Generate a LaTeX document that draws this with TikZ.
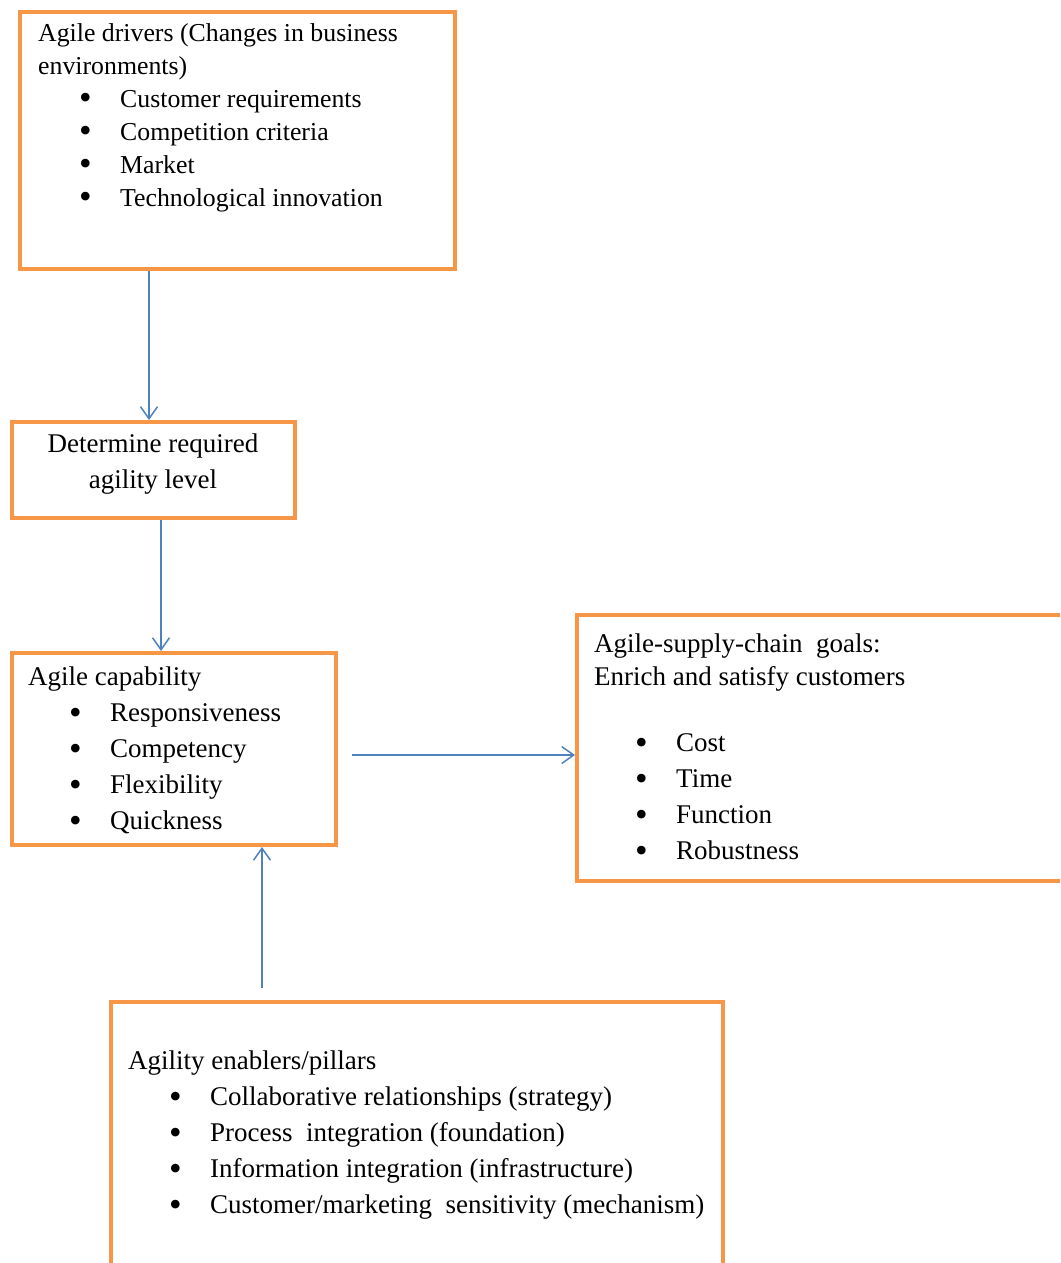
\documentclass[tikz,border=0pt]{standalone}
\usepackage{fontspec}
\setmainfont{Liberation Serif}
\usepackage{tikz}
\usetikzlibrary{positioning, arrows.meta}

\definecolor{boxorange}{HTML}{F79646}
\definecolor{arrowblue}{HTML}{4F81BD}

\newcommand{\itm}[1]{\hspace*{41pt}\makebox[41pt][l]{\raisebox{-2.5pt}{\fontsize{36}{36}\selectfont\textbullet}}#1}

\tikzset{
    box/.style={draw=boxorange, line width=4pt, anchor=north west, inner sep=0pt},
    txt/.style={anchor=north west, inner sep=0pt, align=left, font=\fontsize{27}{36}\selectfont},
    flow/.style={draw=arrowblue, line width=1.5pt, -{Straight Barb[length=12pt, width=17pt]}}
}

\begin{document}
\begin{tikzpicture}[x=1pt, y=-1pt]
            \clip (0, 0) rectangle (1060, 1263);

            % boxes
            \node[box, minimum width=435pt, minimum height=257pt] (drivers) at (18, 10) {};
            \node[box, minimum width=283pt, minimum height=96pt] (level) at (10, 420) {};
            \node[box, minimum width=324pt, minimum height=192pt] (capability) at (10, 651) {};
            \node[box, minimum width=493pt, minimum height=266pt] (goals) at (575, 613) {};
            \node[box, minimum width=612pt, minimum height=290pt] (enablers) at (109, 1000) {};

            % texts
            \node[txt, font=\fontsize{25.8}{33}\selectfont] (driverstext) at (38, 23) {Agile drivers (Changes in business\\environments)\\\itm{Customer requirements}\\\itm{Competition criteria}\\\itm{Market}\\\itm{Technological innovation}};
            \node[txt, anchor=north, align=center] (leveltext) at (153, 434) {Determine required\\agility level};
            \node[txt] (capabilitytext) at (28, 667) {Agile capability\\\itm{Responsiveness}\\\itm{Competency}\\\itm{Flexibility}\\\itm{Quickness}};
            \node[txt] (goalstext) at (594, 634) {Agile-supply-chain\ \ goals:\\[-3pt]Enrich and satisfy customers\\[30pt]\itm{Cost}\\\itm{Time}\\\itm{Function}\\\itm{Robustness}};
            \node[txt] (enablerstext) at (128, 1051) {Agility enablers/pillars\\\itm{Collaborative relationships\ (strategy)}\\\itm{Process\ \ integration (foundation)}\\\itm{Information integration\ (infrastructure)}\\\itm{Customer/marketing\ \ sensitivity (mechanism)}};

            % arrows
            \draw[flow] ([xshift=131pt]drivers.south west) -- ([xshift=139pt]level.north west);
            \draw[flow] ([xshift=151pt]level.south west) -- ([xshift=151pt]capability.north west);
            \draw[flow] ([xshift=14pt, yshift=-104pt]capability.north east) -- ([yshift=-142pt]goals.north west);
            \draw[flow] ([xshift=153pt, yshift=12pt]enablers.north west) -- ([xshift=252pt]capability.south west);
\end{tikzpicture}
\end{document}
